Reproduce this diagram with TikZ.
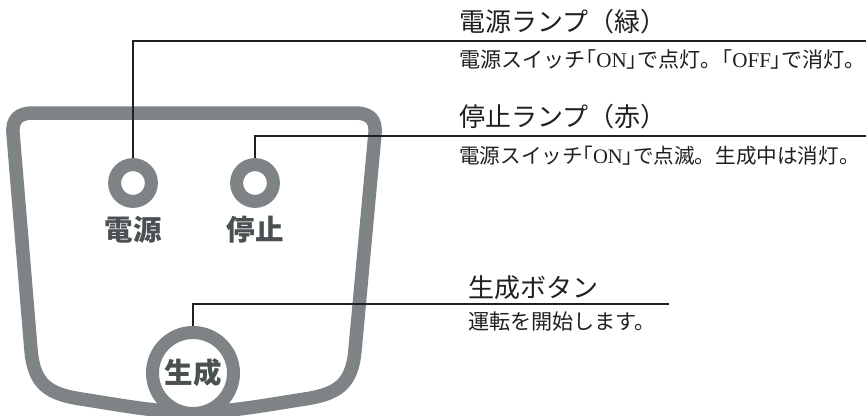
\documentclass[tikz,border=0pt]{standalone}
\usepackage{fontspec}
\newfontfamily\cjk{Noto Sans CJK JP}
\newfontfamily\cjkp[RawFeature=+palt]{Noto Sans CJK JP}
\newfontfamily\ser{Liberation Serif}
\newcommand{\lbk}{{\cjkp 「}}
\newcommand{\rbk}{{\cjkp 」}}
\definecolor{panelgray}{HTML}{7E8386}
\definecolor{labelgray}{HTML}{4A5152}
\definecolor{ink}{HTML}{231F20}
\tikzset{
  panel/.style={draw=panelgray, line width=13.5pt, line join=round},
  lamp/.style={circle, draw=panelgray, line width=13pt, minimum size=36.8pt, inner sep=0pt, fill=white},
  genbtn/.style={circle, draw=panelgray, line width=13pt, minimum size=81pt, inner sep=0pt, fill=white},
  plabel/.style={font=\cjk\bfseries\fontsize{28.5pt}{28.5pt}\selectfont, text=labelgray, inner sep=0pt, anchor=base},
  title/.style={font=\cjk\fontsize{26pt}{26pt}\selectfont, text=ink, inner sep=0pt, anchor=base west},
  desc/.style={font=\cjk\fontsize{21.1pt}{21.1pt}\selectfont, text=ink, inner sep=0pt, anchor=base west},
  descs/.style={desc, font=\cjk\fontsize{20.6pt}{20.6pt}\selectfont},
  leader/.style={draw=ink, line width=1.1pt}
}
\begin{document}
\begin{tikzpicture}[x=1pt, y=-1pt]
\useasboundingbox[fill=white] (0,0) rectangle (866,415);
% panel outline
\draw[panel] (33,113) -- (355,113)
  .. controls (370,113) and (376,120) .. (375,133)
  -- (355,350)
  .. controls (352,385) and (337,394) .. (305,399)
  .. controls (260,406) and (230,412) .. (193,412)
  .. controls (156,412) and (126,406) .. (81,399)
  .. controls (49,394) and (34,385) .. (31,350)
  -- (13,133)
  .. controls (12,120) and (18,113) .. (33,113) -- cycle;
% lamps and button
\node[lamp] (lampA) at (133,183) {};
\node[lamp] (lampB) at (255,183) {};
\node[genbtn] (gen) at (193,373) {};
\node[plabel] (labA) at (133,240) {電源};
\node[plabel] (labB) at (255,240) {停止};
\node[plabel] (labG) at (193,383) {生成};
% texts
\node[title] (t1) at (459,31) {電源ランプ（緑）};
\node[desc] (d1) at (459,67) {電源スイッチ\lbk{\ser ON}\rbk で点灯。\lbk{\ser OFF}\rbk で消灯。};
\node[title] (t2) at (459,126) {停止ランプ（赤）};
\node[descs] (d2) at (459,163) {電源スイッチ\lbk{\ser ON}\rbk で点滅。生成中は消灯。};
\node[title] (t3) at (468,297) {生成ボタン};
\node[desc] (d3) at (468,329) {運転を開始します。};
% leaders
\coordinate (e1) at (866,41);
\coordinate (e2) at (866,136);
\coordinate (e3) at (669,304);
\draw[leader] (lampA.north) |- (e1);
\draw[leader] (lampB.north) |- (e2);
\draw[leader] (gen.north) |- (e3);
\end{tikzpicture}
\end{document}
